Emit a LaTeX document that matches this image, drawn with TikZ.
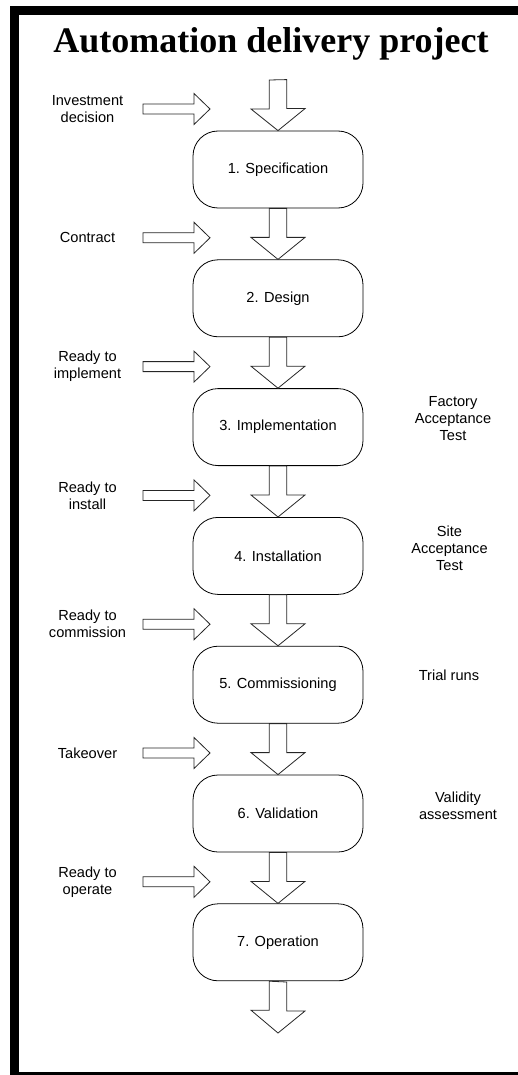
\documentclass[tikz,border=0pt]{standalone}
\usepackage{fontspec}
\setmainfont{Liberation Sans}
\newfontfamily\titlefont{Liberation Serif}
\usetikzlibrary{calc}

\tikzset{
  phase/.style={draw=black, line width=0.8pt, rounded corners=25pt,
    minimum width=170pt, minimum height=77pt, inner sep=0pt,
    font=\fontsize{14.6}{17}\selectfont},
  note/.style={align=center, inner sep=0pt, font=\fontsize{14.6}{17}\selectfont},
  blockarrow/.style={draw=black!85, line width=0.8pt, fill=white, line join=miter},
  framebar/.style={fill=black, draw=none}
}

% vertical block arrow: shaft starts at #1, head tip lands on #2
\newcommand\flowdown[2]{%
  \draw[blockarrow] (#1) ++(-8.7,0) -- ++(0,29) -- ++(-18.3,0) -- (#2)
    -- ++(27,-22) -- ++(-18.3,0) -- ++(0,-29) -- cycle;}
% horizontal block arrow: tail at #1, tip at #2
\newcommand\flowin[2]{%
  \draw[blockarrow] (#1) ++(0,-5) -- ++(51,0) -- ++(0,-10.5) -- (#2)
    -- ++(-16,15.5) -- ++(0,-10.5) -- ++(-51,0) -- cycle;}

\begin{document}
\begin{tikzpicture}[x=1pt, y=-1pt]
\useasboundingbox (0,0) rectangle (518,1075);

% frame
\fill[framebar] (9.5,6) rectangle (18.7,1075);
\fill[framebar] (9.5,6) rectangle (518,15.5);
\fill[framebar] (9.5,1072) rectangle (518,1075);

% heading
\node[anchor=base, inner sep=0pt, font=\titlefont\bfseries\fontsize{36}{40}\selectfont]
  (title) at (271,53) {Automation delivery project};

% phases
\foreach \k/\txt in {1/1. Specification, 2/2. Design, 3/3. Implementation,
    4/4. Installation, 5/5. Commissioning, 6/6. Validation, 7/7. Operation}{
  \node[phase] (b\k) at (278,{169.5+(\k-1)*128.8}) {\txt};
}

\coordinate (start) at (278,80);
\coordinate (finish) at (278,1033);

% flow between phases
\flowdown{start}{b1.north}
\foreach \k [evaluate=\k as \n using int(\k+1)] in {1,...,6}{
  \flowdown{b\k.south}{b\n.north}
}
\flowdown{b7.south}{finish}

% milestones entering from the left
\foreach \k/\txt in {1/{Investment\\decision}, 2/Contract, 3/{Ready to\\implement},
    4/{Ready to\\install}, 5/{Ready to\\commission}, 6/Takeover, 7/{Ready to\\operate}}{
  \coordinate (tail\k) at (143,{109+(\k-1)*128.8});
  \coordinate (tip\k) at (210,{109+(\k-1)*128.8});
  \node[note] (m\k) at (87.5,{109+(\k-1)*128.8}) {\txt};
  \flowin{tail\k}{tip\k}
}

% checks on the right
\node[note] (r3) at (453,419) {Factory\\Acceptance\\Test};
\node[note] (r4) at (449.5,548) {Site\\Acceptance\\Test};
\node[note] (r5) at (449,675) {Trial runs};
\node[note] (r6) at (458,806) {Validity\\assessment};
\end{tikzpicture}
\end{document}
